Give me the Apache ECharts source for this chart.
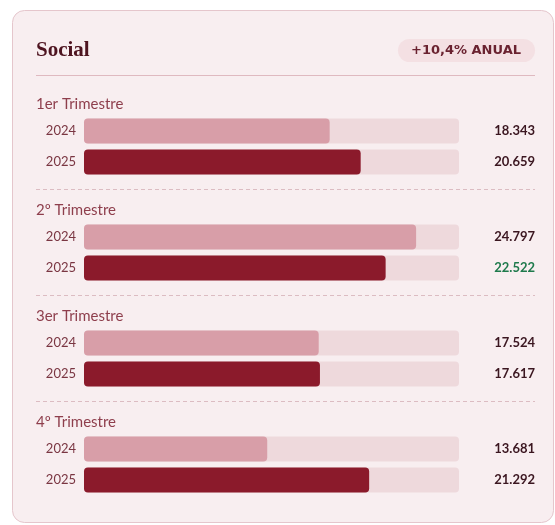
<!DOCTYPE html>
<html>
<head>
<meta charset="utf-8">
<script src="https://cdn.jsdelivr.net/npm/echarts@6/dist/echarts.min.js"></script>
<style>
  html, body { margin: 0; padding: 0; background: #ffffff; }
  #chart { width: 555px; height: 525px; }
</style>
</head>
<body>
<div id="chart"></div>
<script>
const quarters = ['1er Trimestre', '2º Trimestre', '3er Trimestre', '4º Trimestre']
const years = ['2024', '2025']
const values2024 = [18343, 24797, 17524, 13681]
const values2025 = [20659, 22522, 17617, 21292]
const badgeText = '+10,4% ANUAL'
const axisMax = 28000

const fmt = v => String(v).replace(/\B(?=(\d{3})+(?!\d))/g, '.')

const C = {
  card: '#f8eef0',
  border: '#e5c6cc',
  track: '#eed9dc',
  y2024: '#d89ea8',
  y2025: '#8b1a2b',
  title: '#4e1420',
  quarter: '#8e3e4c',
  year: '#7a3642',
  value: '#3b1620',
  green: '#1f7a4c',
}

const step = 106
const grids = [], xAxes = [], yAxes = [], series = [], graphics = []

quarters.forEach((q, i) => {
  const top = 115.5 + i * step
  grids.push({ left: 84, right: 96, top, height: 62 })
  xAxes.push({ gridIndex: i, type: 'value', min: 0, max: axisMax, show: false })
  yAxes.push({
    gridIndex: i, type: 'category', inverse: true, data: years,
    axisLine: { show: false }, axisTick: { show: false },
    axisLabel: { color: C.year, fontSize: 13, fontFamily: 'Lato', margin: 8 },
  })
  const v24 = values2024[i], v25 = values2025[i]
  yAxes.push({
    gridIndex: i, type: 'category', inverse: true, position: 'right',
    data: [fmt(v24), fmt(v25)],
    axisLine: { show: false }, axisTick: { show: false },
    axisLabel: {
      align: 'right', margin: 76, fontSize: 13, fontWeight: 'bold', fontFamily: 'Lato',
      color: (val, idx) => (idx === 1 && v25 < v24 ? C.green : C.value),
    },
  })
  series.push({
    type: 'bar', xAxisIndex: i, yAxisIndex: i * 2, barWidth: 25,
    showBackground: true,
    backgroundStyle: { color: C.track, borderRadius: 4 },
    data: [
      { value: v24, itemStyle: { color: C.y2024, borderRadius: 4 } },
      { value: v25, itemStyle: { color: C.y2025, borderRadius: 4 } },
    ],
    silent: true,
  })
  graphics.push({
    type: 'text', left: 36, top: 97 + i * step,
    style: { text: q, fill: C.quarter, fontSize: 15, fontFamily: 'Lato' },
  })
  if (i > 0) {
    graphics.push({
      type: 'line',
      shape: { x1: 36, y1: 189.5 + (i - 1) * step, x2: 535, y2: 189.5 + (i - 1) * step },
      style: { stroke: '#dcbcc2', lineWidth: 1, lineDash: [4, 3] },
    })
  }
})

const chart = echarts.init(document.getElementById('chart'))
chart.setOption({
  animation: false,
  backgroundColor: '#ffffff',
  grid: grids,
  xAxis: xAxes,
  yAxis: yAxes,
  series,
  graphic: [
    {
      type: 'rect', z: -10,
      shape: { x: 12.5, y: 10.5, width: 541, height: 512, r: 12 },
      style: { fill: C.card, stroke: C.border, lineWidth: 1 },
    },
    {
      type: 'text', left: 36, top: 40,
      style: { text: 'Social', fill: C.title, fontSize: 21, fontWeight: 'bold', fontFamily: 'Liberation Serif' },
    },
    {
      type: 'rect',
      shape: { x: 398, y: 39, width: 137, height: 23, r: 11.5 },
      style: { fill: '#f4e0e3' },
    },
    {
      type: 'text',
      style: {
        x: 466, y: 51, align: 'center', verticalAlign: 'middle',
        text: badgeText, fill: '#6a2230', fontSize: 13, fontWeight: 'bold', fontFamily: 'DejaVu Sans',
      },
    },
    {
      type: 'line',
      shape: { x1: 36, y1: 75.5, x2: 535, y2: 75.5 },
      style: { stroke: '#dfb9c0', lineWidth: 1 },
    },
    ...graphics,
  ],
})
</script>
</body>
</html>
